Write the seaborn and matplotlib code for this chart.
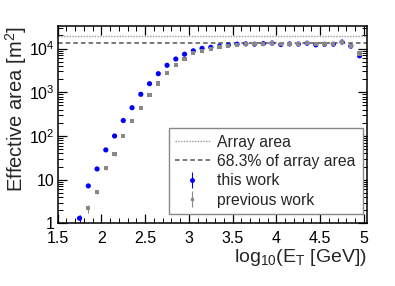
import numpy as np
import pandas as pd
import matplotlib
matplotlib.use("Agg")
import matplotlib.pyplot as plt
from matplotlib.lines import Line2D
from matplotlib.ticker import FixedLocator, LogLocator, NullFormatter, MultipleLocator
import seaborn as sns

# ---- data ----
x_this = [1.75, 1.85, 1.95, 2.05, 2.15, 2.25, 2.35, 2.45, 2.55, 2.65, 2.75, 2.85, 2.95,
          3.05, 3.15, 3.25, 3.35, 3.45, 3.55, 3.65, 3.75, 3.85, 3.95, 4.05, 4.15, 4.25,
          4.35, 4.45, 4.55, 4.65, 4.75, 4.85, 4.95]
y_this = [1.31, 7.2, 17.6, 48, 100, 226, 444, 900, 1575, 2670, 4150, 5780, 7450,
          8900, 10100, 10700, 11400, 12000, 12600, 12850, 12650, 13000, 13400, 12400, 12800, 12700,
          13300, 12200, 12600, 12600, 14150, 11400, 6850]
e_this = [0.25, 0.5, 0.8, 1.5, 2.5, 4, 6, 9, 13, 18, 24, 28, 32,
          35, 38, 40, 42, 44, 46, 48, 50, 52, 54, 56, 58, 60,
          62, 64, 66, 68, 70, 72, 60]

x_prev = [1.85, 1.95, 2.05, 2.15, 2.25, 2.35, 2.45, 2.55, 2.65, 2.75, 2.85, 2.95,
          3.05, 3.15, 3.25, 3.35, 3.45, 3.55, 3.65, 3.75, 3.85, 3.95, 4.05, 4.15, 4.25,
          4.35, 4.45, 4.55, 4.65, 4.75, 4.85, 4.95]
y_prev = [2.2, 5.3, 18.3, 38, 102, 220, 444, 885, 1590, 2720, 4210, 5800,
          7850, 8900, 9850, 10800, 11550, 12100, 12500, 12500, 12600, 13200, 12900, 13000, 12900,
          13400, 12500, 12900, 12900, 14150, 11700, 7700]
e_prev = [0.45, 0.6, 1.4, 2.5, 4, 6, 9, 13, 18, 24, 28, 32,
          35, 38, 40, 42, 44, 46, 48, 50, 52, 54, 56, 58, 60,
          62, 64, 66, 68, 70, 72, 60]

array_area = 19700.0
frac = 0.683

x_ticks = [1.5, 2, 2.5, 3, 3.5, 4, 4.5, 5]
x_ticklabels = ["1.5", "2", "2.5", "3", "3.5", "4", "4.5", "5"]
y_ticks = [1, 10, 100, 1000, 10000]
y_ticklabels = ["1", "10", "$10^{2}$", "$10^{3}$", "$10^{4}$"]

legend_labels = ["Array area", "68.3% of array area", "this work", "previous work"]

# ---- style ----
sns.set_style("ticks")
plt.rcParams['font.family'] = ['Liberation Sans', 'DejaVu Sans']
plt.rcParams['mathtext.fontset'] = 'custom'
plt.rcParams['mathtext.rm'] = 'Liberation Sans'
plt.rcParams['mathtext.it'] = 'Liberation Sans:italic'
plt.rcParams['mathtext.bf'] = 'Liberation Sans:bold'

BLUE = "#0000ff"
GREY = "#888888"

df = pd.concat([
    pd.DataFrame({"x": x_this, "y": y_this, "err": e_this, "series": "this work"}),
    pd.DataFrame({"x": x_prev, "y": y_prev, "err": e_prev, "series": "previous work"}),
])

fig = plt.figure(figsize=(3.95, 2.86), dpi=100)
ax = fig.add_axes([0.146, 0.219, 0.782, 0.691])

# reference lines
ax.axhline(array_area, color="#999999", ls=(0, (1, 1)), lw=1.0, zorder=1)
ax.axhline(array_area * frac, color="#555555", ls=(0, (3, 2)), lw=1.1, zorder=1)

# error bars
for name, col in [("previous work", GREY), ("this work", BLUE)]:
    d = df[df.series == name]
    ax.errorbar(d.x, d.y, yerr=d.err, fmt="none", ecolor=col, elinewidth=0.8, capsize=0, zorder=2)

sns.scatterplot(data=df, x="x", y="y", hue="series", style="series",
                hue_order=["previous work", "this work"],
                palette={"this work": BLUE, "previous work": GREY},
                markers={"this work": "o", "previous work": "s"},
                size="series", sizes={"this work": 14, "previous work": 9},
                linewidth=0, edgecolor="none", legend=False, ax=ax, zorder=3)

ax.set_yscale("log")
ax.set_xlim(1.5, 5.03)
ax.set_ylim(1.0, 33400)

ax.xaxis.set_major_locator(FixedLocator(x_ticks))
ax.set_xticklabels(x_ticklabels)
ax.xaxis.set_minor_locator(MultipleLocator(0.1))
ax.yaxis.set_major_locator(FixedLocator(y_ticks))
ax.set_yticklabels(y_ticklabels)
ax.yaxis.set_minor_locator(LogLocator(base=10, subs=np.arange(2, 10)))
ax.yaxis.set_minor_formatter(NullFormatter())

ax.tick_params(which="both", direction="in", top=True, right=True, colors="black",
               labelsize=11.5)
ax.tick_params(which="major", length=6.5, width=0.9)
ax.tick_params(which="minor", length=3.5, width=0.7)
ax.tick_params(axis="x", which="major", pad=5.5)
ax.tick_params(axis="y", which="major", pad=2)
for s in ax.spines.values():
    s.set_linewidth(1.1)
    s.set_color("black")

ax.set_xlabel(r"log$_{10}$(E$_{\mathrm{T}}$ [GeV])", fontsize=14, loc="right", labelpad=1)
ax.set_ylabel(r"Effective area [m$^{2}$]", fontsize=14.5, loc="top", labelpad=0)

handles = [
    Line2D([], [], color="#999999", ls=(0, (1, 1)), lw=1.0),
    Line2D([], [], color="#555555", ls=(0, (3, 2)), lw=1.1),
]
eb1 = ax.errorbar([], [], yerr=[], fmt="o", color=BLUE, ms=2.5, elinewidth=0.8)
eb2 = ax.errorbar([], [], yerr=[], fmt="s", color=GREY, ms=2.0, elinewidth=0.8)
handles += [eb1, eb2]

leg = ax.legend(handles, legend_labels, loc="lower left",
                bbox_to_anchor=(0.36, 0.0475, 0.628, 0.435), mode="expand",
                fontsize=11.3, frameon=True, fancybox=False, framealpha=1,
                edgecolor="#888888", handlelength=2.2, handletextpad=0.45,
                labelspacing=0.28, borderpad=0.4, borderaxespad=0)
leg.get_frame().set_linewidth(1.0)

fig.savefig("out.png", dpi=100)
